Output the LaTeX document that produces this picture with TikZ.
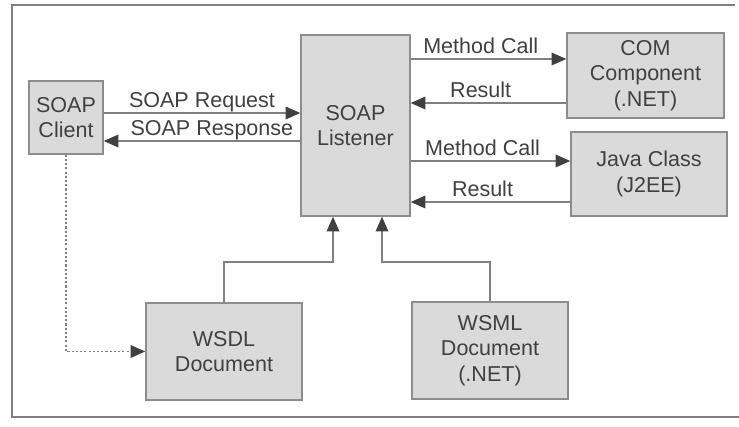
\documentclass[tikz,border=0pt]{standalone}
\usepackage{fontspec}
\setmainfont{Liberation Sans}
\usetikzlibrary{arrows.meta}
\definecolor{boxfill}{HTML}{DADADA}
\definecolor{boxline}{HTML}{8C8C8C}
\definecolor{wire}{HTML}{808080}
\definecolor{tip}{HTML}{404040}
\definecolor{ink}{HTML}{404040}
\begin{document}
\begin{tikzpicture}[x=0.025cm,y=-0.025cm,
    font=\fontsize{15.3}{18}\selectfont,
    box/.style={draw=boxline,fill=boxfill,line width=1pt,text=ink,align=center,inner sep=0pt},
    flow/.style={draw=wire,line width=1pt,-{Triangle[length=10.5pt,width=9pt,color=tip]}},
    lbl/.style={above,inner sep=0pt,text depth=0pt,yshift=3.5pt,text=ink}]
  \useasboundingbox (0,0) rectangle (739,427);
  \draw[wire,line width=0.8pt] (735,5) -- (12,5) -- (12,417) -- (739,417);

  \node[box,minimum width=1.85cm,minimum height=1.825cm] (client) at (66,117.5) {SOAP\\Client};
  \node[box,minimum width=2.725cm,minimum height=4.525cm] (listener) at (355.5,125.5) {SOAP\\Listener};
  \node[box,minimum width=3.925cm,minimum height=2.125cm] (com) at (645.5,75.5) {COM\\Component\\(.NET)};
  \node[box,minimum width=3.9cm,minimum height=2.1cm] (java) at (649,174) {Java Class\\(J2EE)};
  \node[box,minimum width=3.9cm,minimum height=2.425cm] (wsdl) at (224,351.5) {WSDL\\Document};
  \node[box,minimum width=3.9cm,minimum height=2.425cm] (wsml) at (490,350.5) {WSML\\Document\\(.NET)};

  \begin{scope}[flow]
    \draw (client.east |- 0,113) -- node[lbl] {SOAP Request} (listener.west |- 0,113);
    \draw (listener.west |- 0,141) -- node[lbl,pos=0.45] {SOAP Response} (client.east |- 0,141);
    \draw (listener.east |- 0,59) -- node[lbl,pos=0.45] {Method Call} (com.west |- 0,59);
    \draw (com.west |- 0,103) -- node[lbl,pos=0.55] {Result} (listener.east |- 0,103);
    \draw (listener.east |- 0,161) -- node[lbl,pos=0.45] {Method Call} (java.west |- 0,161);
    \draw (java.west |- 0,202) -- node[lbl,pos=0.55] {Result} (listener.east |- 0,202);
    \draw (wsdl.north) |- (333,262) -- (listener.south -| 333,0);
    \draw (wsml.north) |- (382,262) -- (listener.south -| 382,0);
    \draw[line width=1.2pt,dash pattern=on 1.5pt off 1.5pt] (client.south) |- (wsdl.west);
  \end{scope}
\end{tikzpicture}
\end{document}
